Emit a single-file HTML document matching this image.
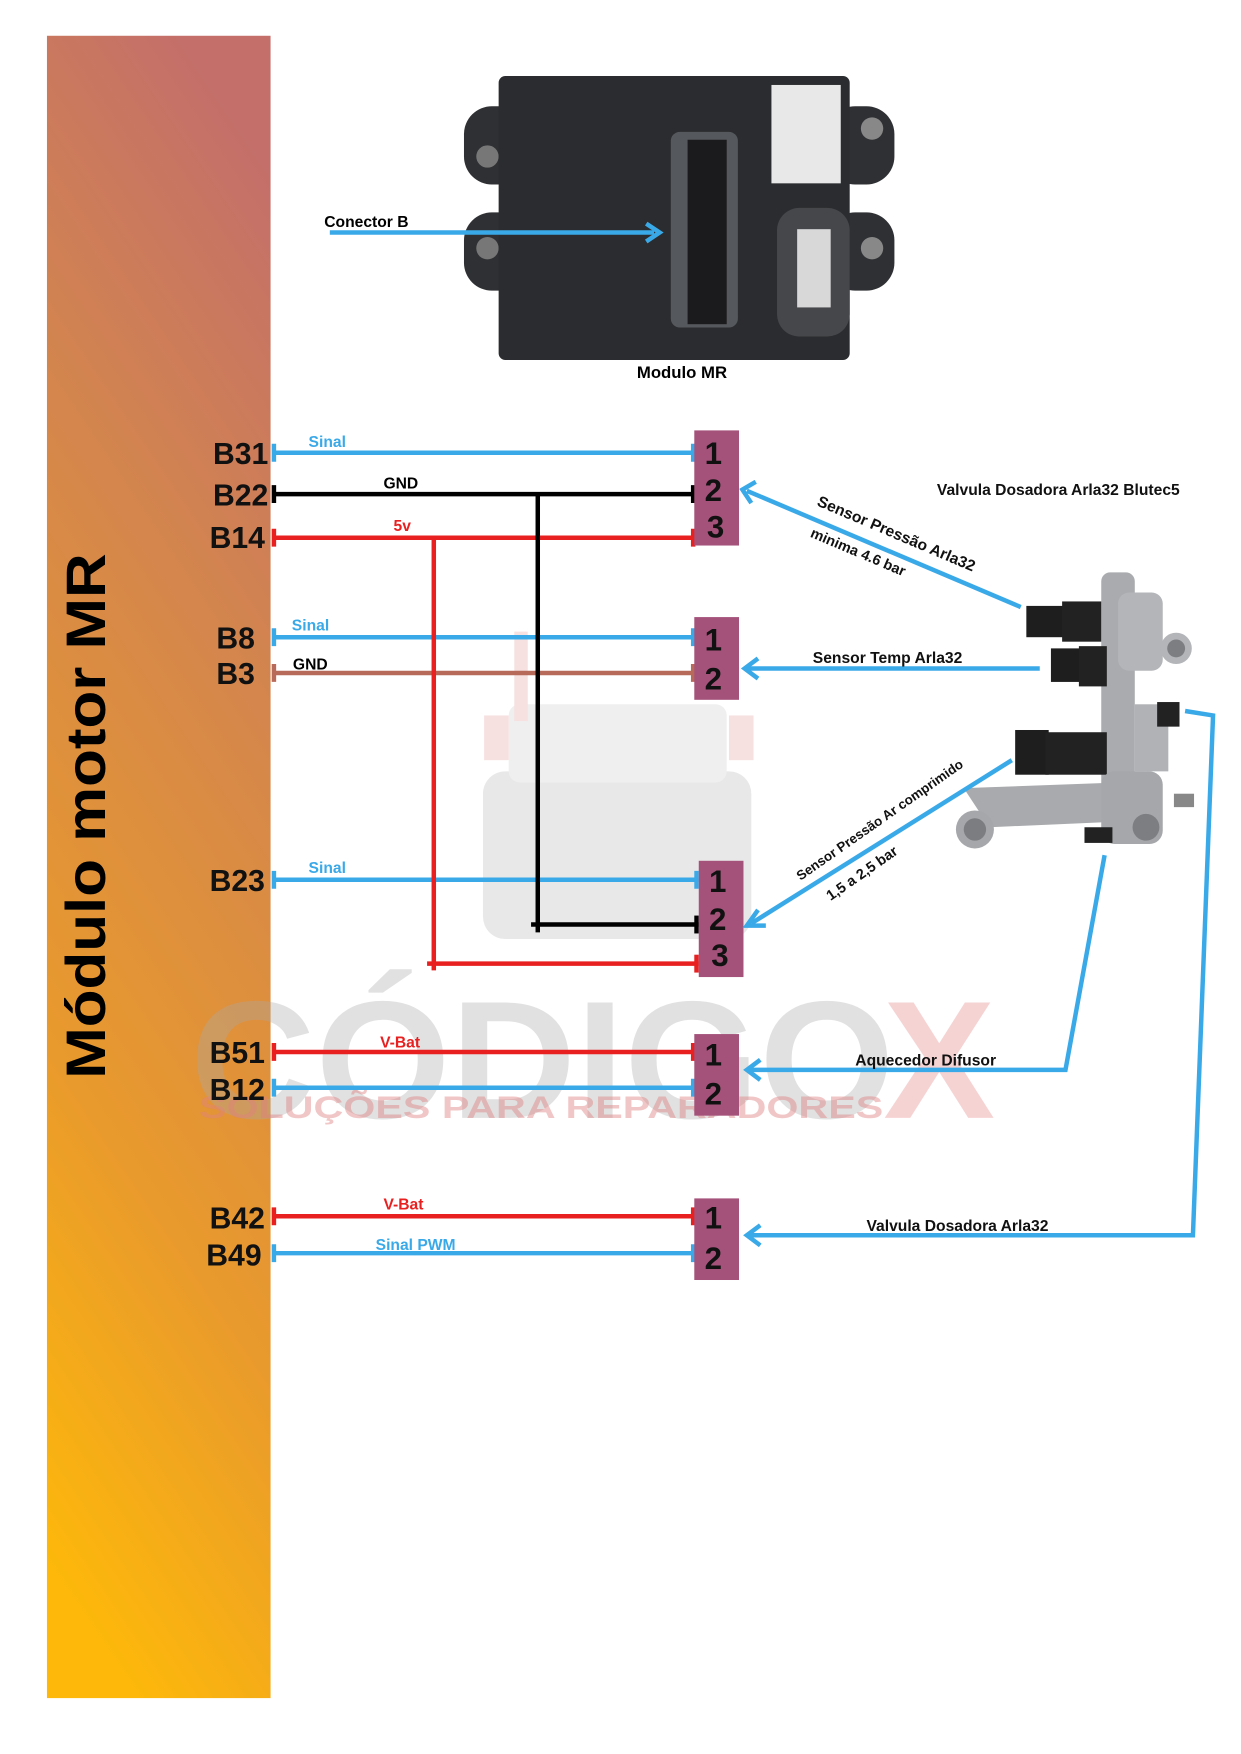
<!DOCTYPE html>
<html><head><meta charset="utf-8"><style>
html,body{margin:0;padding:0;background:#fff;width:1241px;height:1754px;overflow:hidden}
svg{display:block}
text{font-family:"Liberation Sans","DejaVu Sans",sans-serif;font-weight:bold}
</style></head><body>
<svg width="1241" height="1754" viewBox="0 0 1110 1569" preserveAspectRatio="none" xmlns="http://www.w3.org/2000/svg">
<defs>
<linearGradient id="og" x1="0.6" y1="0" x2="0.4" y2="1">
<stop offset="0" stop-color="#c46f6a"/><stop offset="0.3" stop-color="#d3854e"/><stop offset="0.7" stop-color="#e99a2c"/><stop offset="1" stop-color="#fdb80a"/>
</linearGradient>
</defs>
<!-- truck watermark -->
<g opacity="0.55">
<rect x="432" y="690" width="240" height="150" rx="20" fill="#d6d6d6"/>
<rect x="455" y="630" width="195" height="70" rx="10" fill="#e2e2e2"/>
<rect x="433" y="640" width="22" height="40" fill="#f0c8c8"/>
<rect x="652" y="640" width="22" height="40" fill="#f0c8c8"/>
<rect x="460" y="565" width="12" height="80" fill="#f0c8c8"/>
</g>

<rect x="42" y="32" width="200" height="1487" fill="url(#og)"/>
<text transform="translate(94,730) rotate(-90)" text-anchor="middle" font-size="50" fill="#000" textLength="470" lengthAdjust="spacingAndGlyphs">Módulo motor MR</text>

<text x="170" y="1000" font-size="150" fill="#aaa" fill-opacity="0.35" textLength="630" lengthAdjust="spacingAndGlyphs">CÓDIGO</text>
<text x="790" y="1000" font-size="150" fill="#e89090" fill-opacity="0.4">X</text>
<text x="178" y="1000" font-size="28" fill="#e08080" fill-opacity="0.45" textLength="612" lengthAdjust="spacingAndGlyphs" font-weight="normal">SOLUÇÕES PARA REPARADORES</text>

<!-- ECU -->
<g>
<rect x="415" y="95" width="60" height="70" rx="25" fill="#2f3033"/>
<rect x="415" y="190" width="60" height="70" rx="25" fill="#2f3033"/>
<rect x="740" y="95" width="60" height="70" rx="25" fill="#2f3033"/>
<rect x="740" y="190" width="60" height="70" rx="25" fill="#2f3033"/>
<circle cx="436" cy="140" r="10" fill="#777"/><circle cx="436" cy="222" r="10" fill="#777"/>
<circle cx="780" cy="115" r="10" fill="#888"/><circle cx="780" cy="222" r="10" fill="#888"/>
<rect x="446" y="68" width="314" height="254" rx="6" fill="#2b2c2f"/>
<rect x="600" y="118" width="60" height="175" rx="8" fill="#55585c"/>
<rect x="615" y="125" width="35" height="165" fill="#1b1b1d"/>
<rect x="690" y="76" width="62" height="88" fill="#e8e8e8"/>
<rect x="695" y="186" width="65" height="115" rx="20" fill="#45474a"/>
<rect x="713" y="205" width="30" height="70" fill="#d8d8d8"/>
</g>
<text x="290" y="203" font-size="14" fill="#000">Conector B</text>
<line x1="295" y1="208" x2="585" y2="208" stroke="#3aa9e8" stroke-width="4"/>
<path d="M578,200 L590,208 L578,216" fill="none" stroke="#3aa9e8" stroke-width="4"/>
<text x="610" y="338" font-size="15" fill="#000" text-anchor="middle">Modulo MR</text>

<!-- B labels -->
<g font-size="27" fill="#111" text-anchor="end">
<text x="240" y="415">B31</text><text x="240" y="452">B22</text><text x="237" y="490">B14</text>
<text x="228" y="580">B8</text><text x="228" y="612">B3</text><text x="237" y="797">B23</text>
<text x="237" y="951">B51</text><text x="237" y="984">B12</text>
<text x="237" y="1099">B42</text><text x="234" y="1132">B49</text>
</g>

<!-- wires -->
<g stroke-width="4" fill="none">
<path d="M244,405 H622" stroke="#3aa9e8"/>
<path d="M244,442 H622" stroke="#000"/>
<path d="M244,481 H622" stroke="#e82020"/>
<path d="M244,570 H622" stroke="#3aa9e8"/>
<path d="M244,602 H622" stroke="#b86a5a"/>
<path d="M244,787 H625" stroke="#3aa9e8"/>
<path d="M481,442 V834" stroke="#000"/>
<path d="M475,827 H625" stroke="#000"/>
<path d="M388,481 V868" stroke="#e82020"/>
<path d="M382,862 H625" stroke="#e82020"/>
<path d="M244,941 H622" stroke="#e82020"/>
<path d="M244,973 H622" stroke="#3aa9e8"/>
<path d="M244,1088 H622" stroke="#e82020"/>
<path d="M244,1121 H622" stroke="#3aa9e8"/>
<path d="M245,397V413M620,397V413" stroke="#3aa9e8"/>
<path d="M245,434V450M620,434V450" stroke="#000"/>
<path d="M245,473V489M620,473V489" stroke="#e82020"/>
<path d="M245,562V578M620,562V578" stroke="#3aa9e8"/>
<path d="M245,594V610M620,594V610" stroke="#b86a5a"/>
<path d="M245,779V795M623,779V795" stroke="#3aa9e8"/>
<path d="M623,819V835" stroke="#000"/>
<path d="M623,854V870" stroke="#e82020"/>
<path d="M245,933V949M620,933V949" stroke="#e82020"/>
<path d="M245,965V981M620,965V981" stroke="#3aa9e8"/>
<path d="M245,1080V1096M620,1080V1096" stroke="#e82020"/>
<path d="M245,1113V1129M620,1113V1129" stroke="#3aa9e8"/>
</g>
<g font-size="14">
<text x="276" y="400" fill="#3aa9e8">Sinal</text>
<text x="343" y="437" fill="#000">GND</text>
<text x="352" y="475" fill="#e82020">5v</text>
<text x="261" y="564" fill="#3aa9e8">Sinal</text>
<text x="262" y="599" fill="#000">GND</text>
<text x="276" y="781" fill="#3aa9e8">Sinal</text>
<text x="340" y="937" fill="#e82020">V-Bat</text>
<text x="343" y="1082" fill="#e82020">V-Bat</text>
<text x="336" y="1118" fill="#3aa9e8">Sinal  PWM</text>
</g>

<!-- connector boxes -->
<g fill="#a5527a">
<rect x="621" y="385" width="40" height="103"/>
<rect x="621" y="552" width="40" height="74"/>
<rect x="625" y="770" width="40" height="104"/>
<rect x="621" y="925" width="40" height="73"/>
<rect x="621" y="1072" width="40" height="73"/>
</g>
<g font-size="28" fill="#111" text-anchor="middle">
<text x="638" y="415">1</text><text x="638" y="448">2</text><text x="640" y="481">3</text>
<text x="638" y="582">1</text><text x="638" y="617">2</text>
<text x="642" y="798">1</text><text x="642" y="832">2</text><text x="644" y="864">3</text>
<text x="638" y="953">1</text><text x="638" y="988">2</text>
<text x="638" y="1099">1</text><text x="638" y="1135">2</text>
</g>

<!-- valve -->
<g>
<rect x="985" y="512" width="30" height="230" rx="8" fill="#a9abae"/>
<rect x="1000" y="530" width="40" height="70" rx="10" fill="#b3b5b8"/>
<circle cx="1052" cy="580" r="14" fill="#b3b5b8"/><circle cx="1052" cy="580" r="8" fill="#7c7e81"/>
<rect x="918" y="542" width="35" height="28" fill="#1e1e1e"/><rect x="950" y="538" width="35" height="36" fill="#222"/>
<rect x="940" y="580" width="30" height="30" fill="#1e1e1e"/><rect x="965" y="578" width="25" height="36" fill="#222"/>
<rect x="908" y="653" width="30" height="40" fill="#1e1e1e"/><rect x="935" y="655" width="55" height="38" fill="#222"/>
<rect x="1015" y="630" width="30" height="60" fill="#b0b2b5"/>
<rect x="1035" y="628" width="20" height="22" fill="#222"/>
<path d="M862,705 L1000,700 L1000,735 L885,740 Z" fill="#a8aaad"/>
<circle cx="872" cy="742" r="17" fill="#a5a7aa"/><circle cx="872" cy="742" r="10" fill="#7b7d80"/>
<rect x="985" y="690" width="55" height="65" rx="12" fill="#a5a7aa"/>
<circle cx="1025" cy="740" r="12" fill="#7c7e81"/>
<rect x="970" y="740" width="25" height="14" fill="#222"/>
<rect x="1050" y="710" width="18" height="12" fill="#888"/>
</g>
<text x="838" y="443" font-size="14" fill="#111">Valvula Dosadora Arla32 Blutec5</text>

<!-- arrows -->
<g stroke="#3aa9e8" stroke-width="4" fill="none">
<path d="M913,543 L668,439"/><path d="M676,431 L664,438 L672,450" />
<path d="M930,598 H668"/><path d="M678,589 L666,598 L678,607"/>
<path d="M905,680 L672,826"/><path d="M678,814 L668,828 L685,828"/>
<path d="M988,765 L953,957 H670"/><path d="M680,948 L668,957 L680,966"/>
<path d="M1060,636 L1085,640 L1067,1105 H670"/><path d="M680,1096 L668,1105 L680,1114"/>
</g>
<g font-size="14" fill="#111">
<text transform="translate(730,452) rotate(23)">Sensor Pressão Arla32</text>
<text transform="translate(724,480) rotate(23)" font-size="13">minima 4.6 bar</text>
<text x="727" y="593">Sensor Temp Arla32</text>
<text transform="translate(716,788) rotate(-35)" font-size="12">Sensor Pressão Ar comprimido</text>
<text transform="translate(743,806) rotate(-35)" font-size="13">1,5 a 2,5 bar</text>
<text x="765" y="953">Aquecedor Difusor</text>
<text x="775" y="1101">Valvula Dosadora Arla32</text>
</g>
</svg>
</body></html>
